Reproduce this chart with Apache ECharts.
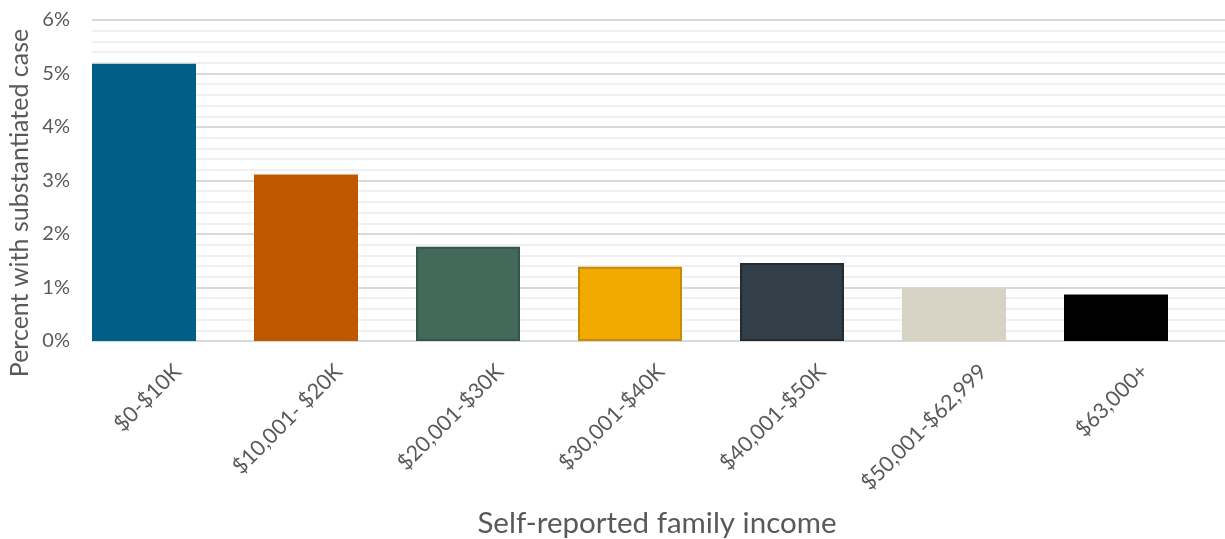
<!DOCTYPE html>
<html>
<head>
<meta charset="utf-8">
<script src="https://cdn.jsdelivr.net/npm/echarts@6/dist/echarts.min.js"></script>
<style>
  html, body { margin: 0; padding: 0; background: #ffffff; }
  #chart { width: 1225px; height: 539px; }
</style>
</head>
<body>
<div id="chart"></div>
<script>
// Income brackets and share of families with a substantiated case (%)
const categories = ['$0-$10K', '$10,001- $20K', '$20,001-$30K', '$30,001-$40K', '$40,001-$50K', '$50,001-$62,999', '$63,000+'];
const values = [5.18, 3.11, 1.76, 1.39, 1.46, 0.98, 0.87];
const barColors = ['#005f86', '#bf5700', '#43695b', '#f2a900', '#333f48', '#d6d2c4', '#000000'];
const barBorders = ['#005f86', '#bf5700', '#34554a', '#c68b07', '#232c33', '#d6d2c4', '#000000'];
const yTicks = { min: 0, max: 6, interval: 1 };
const xTitle = 'Self-reported family income';
const yTitle = 'Percent with substantiated case';

const FONT = 'Lato, "Noto Sans", sans-serif';
const TEXT = '#595959';

const chart = echarts.init(document.getElementById('chart'), null, { renderer: 'canvas' });

const hiddenValueAxis = (gridIndex) => ({
  type: 'value', gridIndex, min: yTicks.min, max: yTicks.max, interval: yTicks.interval,
  show: false, splitLine: { show: false }
});

chart.setOption({
  animation: false,
  backgroundColor: '#ffffff',
  grid: [
    // bars
    { left: 63, width: 1134, top: 20, bottom: 198 },
    // gridlines and percent scale
    { left: 92, right: 0, top: 20, bottom: 198 },
    // rotated category labels
    { left: 97, width: 1134, top: 20, bottom: 198 }
  ],
  xAxis: [
    {
      type: 'category', gridIndex: 0, data: categories,
      axisLine: { show: false }, axisTick: { show: false }, axisLabel: { show: false }
    },
    { type: 'value', gridIndex: 1, show: false },
    {
      type: 'category', gridIndex: 2, data: categories,
      axisLine: { show: false }, axisTick: { show: false },
      axisLabel: {
        show: true, rotate: 45, margin: 27, interval: 0,
        color: TEXT, fontFamily: FONT, fontSize: 21.5
      }
    }
  ],
  yAxis: [
    hiddenValueAxis(0),
    {
      type: 'value', gridIndex: 1,
      min: yTicks.min, max: yTicks.max, interval: yTicks.interval,
      axisLine: { show: false }, axisTick: { show: false },
      axisLabel: {
        margin: 22, color: TEXT, fontFamily: FONT, fontSize: 20,
        formatter: '{value}%'
      },
      splitLine: { show: true, lineStyle: { color: '#d9d9d9', width: 2 } },
      minorTick: { show: false, splitNumber: 5 },
      minorSplitLine: { show: true, lineStyle: { color: '#f0f0f0', width: 2 } }
    },
    hiddenValueAxis(2)
  ],
  series: [{
    type: 'bar',
    xAxisIndex: 0, yAxisIndex: 0,
    barWidth: 104,
    data: values.map((v, i) => ({
      value: v,
      itemStyle: { color: barColors[i], borderColor: barBorders[i], borderWidth: 2 }
    }))
  }],
  graphic: [
    {
      type: 'text', x: 657, y: 523,
      style: {
        text: xTitle, fill: TEXT, font: '29.5px ' + FONT,
        textAlign: 'center', textVerticalAlign: 'middle'
      }
    },
    {
      type: 'text', x: 20, y: 203, rotation: Math.PI / 2,
      style: {
        text: yTitle, fill: TEXT, font: '25px ' + FONT,
        textAlign: 'center', textVerticalAlign: 'middle'
      }
    }
  ]
});
</script>
</body>
</html>
